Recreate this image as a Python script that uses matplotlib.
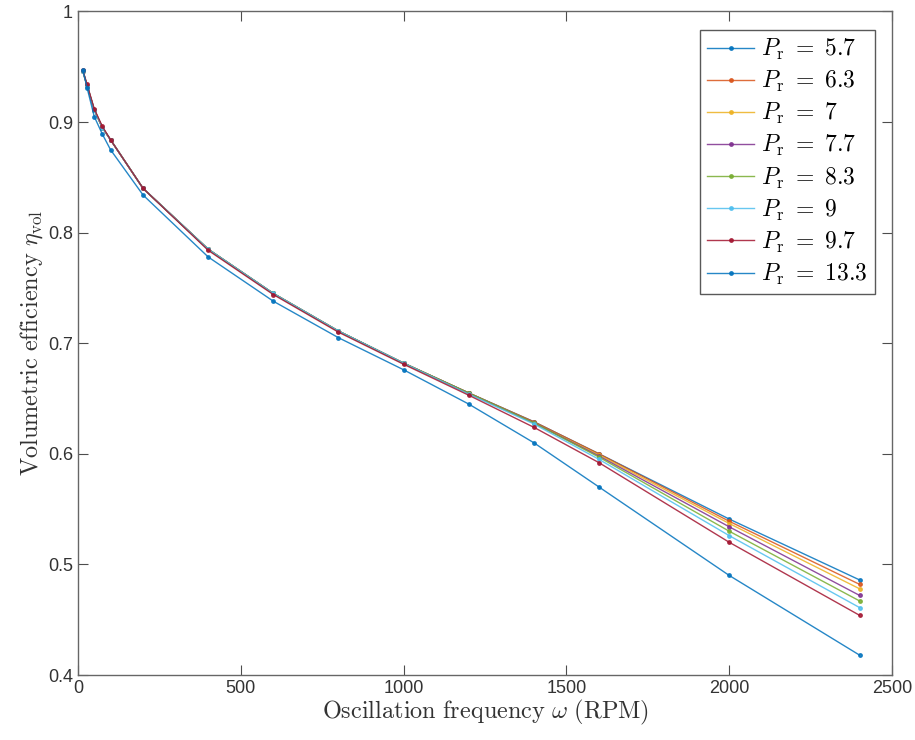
import matplotlib
matplotlib.use("Agg")
import matplotlib.pyplot as plt

plt.rcParams['mathtext.fontset'] = 'cm'
plt.rcParams['font.family'] = ['Liberation Sans', 'DejaVu Sans']

# oscillation frequency (RPM)
omega = [15, 28, 50, 75, 100, 200, 400, 600, 800, 1000, 1200, 1400, 1600, 2000, 2400]

pr_labels = ['5.7', '6.3', '7', '7.7', '8.3', '9', '9.7', '13.3']

eta_5_7 = [0.946, 0.933, 0.911, 0.895, 0.884, 0.840, 0.785, 0.745, 0.711, 0.682, 0.655, 0.629, 0.600, 0.541, 0.486]
eta_6_3 = [0.946, 0.933, 0.911, 0.895, 0.884, 0.840, 0.785, 0.745, 0.711, 0.682, 0.655, 0.629, 0.600, 0.539, 0.482]
eta_7 = [0.946, 0.933, 0.911, 0.895, 0.884, 0.840, 0.785, 0.745, 0.711, 0.682, 0.655, 0.628, 0.599, 0.537, 0.478]
eta_7_7 = [0.946, 0.933, 0.911, 0.895, 0.884, 0.840, 0.785, 0.745, 0.711, 0.682, 0.655, 0.628, 0.598, 0.534, 0.472]
eta_8_3 = [0.946, 0.933, 0.911, 0.895, 0.884, 0.840, 0.785, 0.745, 0.711, 0.682, 0.655, 0.628, 0.597, 0.530, 0.467]
eta_9 = [0.946, 0.933, 0.911, 0.895, 0.884, 0.840, 0.785, 0.745, 0.711, 0.682, 0.654, 0.627, 0.595, 0.526, 0.461]
eta_9_7 = [0.947, 0.934, 0.912, 0.896, 0.884, 0.840, 0.784, 0.744, 0.710, 0.681, 0.653, 0.624, 0.592, 0.520, 0.454]
eta_13_3 = [0.947, 0.931, 0.905, 0.889, 0.875, 0.834, 0.778, 0.738, 0.705, 0.676, 0.645, 0.610, 0.570, 0.490, 0.418]

series = [eta_5_7, eta_6_3, eta_7, eta_7_7, eta_8_3, eta_9, eta_9_7, eta_13_3]

# matlab default line colours (cycle wraps for the last one)
colors = ['#0072BD', '#D95319', '#EDB120', '#7E2F8E', '#77AC30', '#4DBEEE', '#A2142F', '#0072BD']

fig = plt.figure(figsize=(9.15, 7.4), dpi=100)
ax = fig.add_axes([0.0852, 0.0878, 0.8898, 0.8967])

for eta, lab, c in zip(series, pr_labels, colors):
    ax.plot(omega, eta, color=c, marker='.', markersize=5, linewidth=1.0, alpha=0.85,
            label=r'$P_{\mathrm{r}}\ =\ ' + lab + '$')

ax.set_xlim(0, 2500)
ax.set_ylim(0.4, 1.0)
ax.set_xticks([0, 500, 1000, 1500, 2000, 2500])
ax.set_yticks([0.4, 0.5, 0.6, 0.7, 0.8, 0.9, 1.0])
ax.set_yticklabels(['0.4', '0.5', '0.6', '0.7', '0.8', '0.9', '1'])

ax.tick_params(direction='in', top=True, right=True, length=7, width=0.8,
               labelsize=13, colors='0.3', labelcolor='0.2')
for s in ax.spines.values():
    s.set_color('0.4')
    s.set_linewidth(1.0)

ax.set_xlabel(r'$\mathrm{Oscillation\ frequency}\ \omega\ \mathrm{(RPM)}$', fontsize=17.5, color='0.2', labelpad=1)
ax.set_ylabel(r'$\mathrm{Volumetric\ efficiency}\ \eta_{\mathrm{vol}}$', fontsize=17.5, color='0.2', labelpad=2)

leg = ax.legend(loc='upper right', bbox_to_anchor=(0.979, 0.972), borderaxespad=0,
                fontsize=17, handlelength=2.0, handletextpad=0.3, labelspacing=0.3,
                fancybox=False, framealpha=1, borderpad=0.3)
leg.get_frame().set_edgecolor('0.35')
leg.get_frame().set_linewidth(1.0)

fig.savefig('out.png', dpi=100)
